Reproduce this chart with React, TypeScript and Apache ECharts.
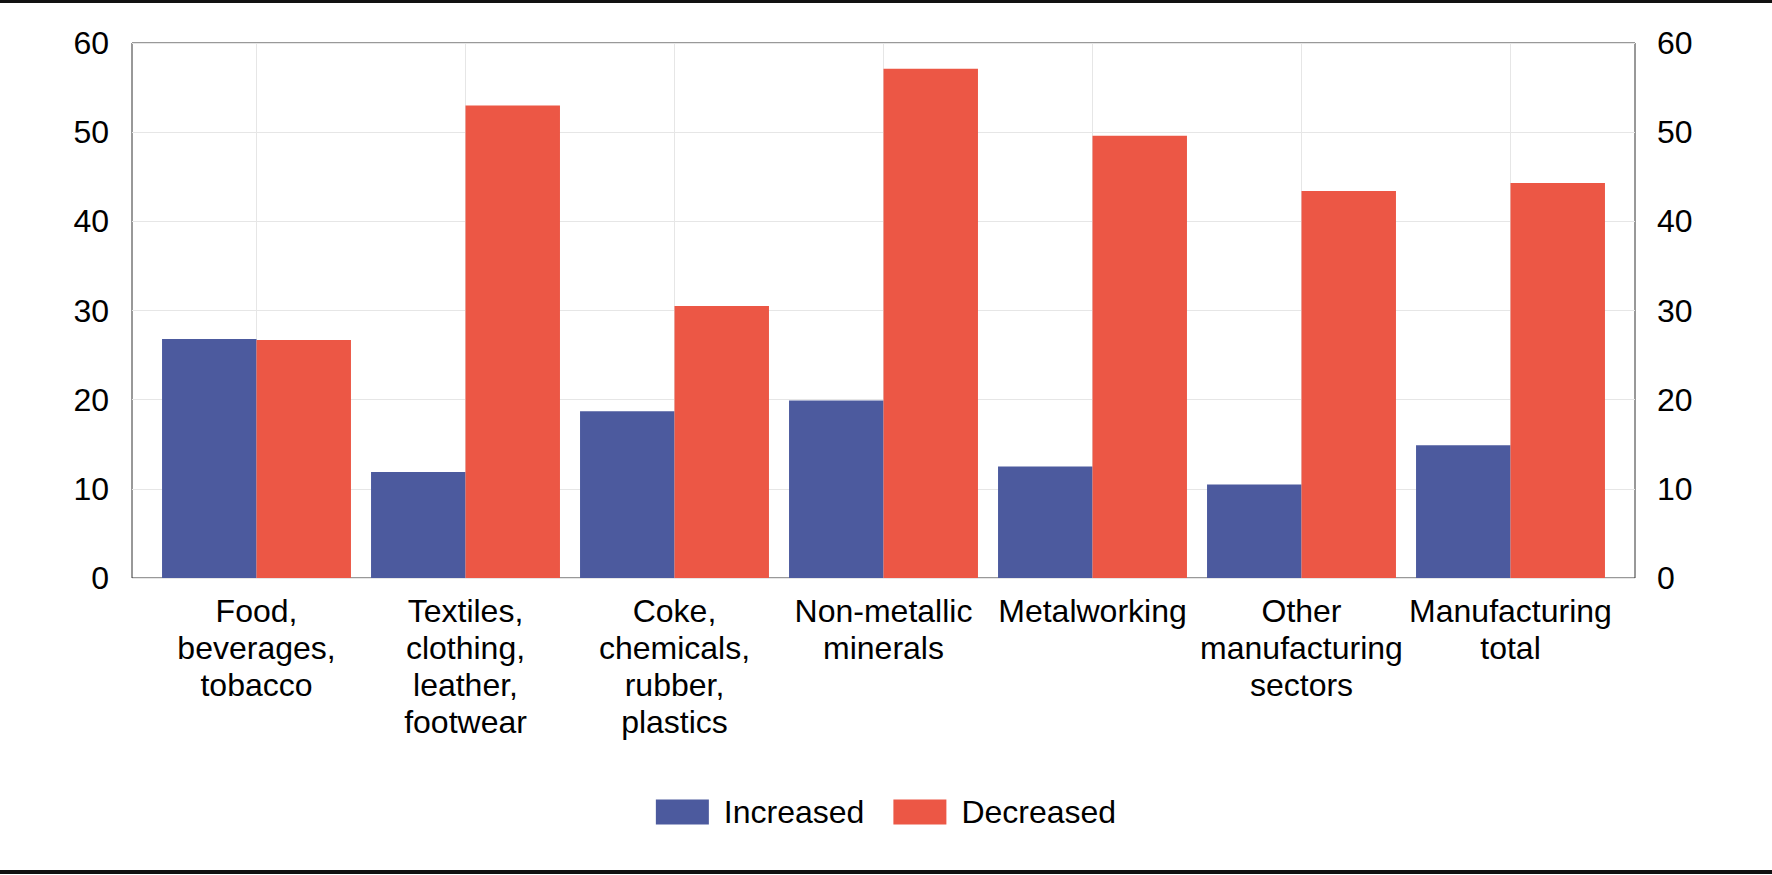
import React, { useEffect, useRef } from "react";
import * as echarts from "echarts";

const categories = [
  "Food,\nbeverages,\ntobacco",
  "Textiles,\nclothing,\nleather,\nfootwear",
  "Coke,\nchemicals,\nrubber,\nplastics",
  "Non-metallic\nminerals",
  "Metalworking",
  "Other\nmanufacturing\nsectors",
  "Manufacturing\ntotal",
];
const increased = [26.8, 11.9, 18.7, 19.9, 12.5, 10.5, 14.9];
const decreased = [26.7, 53.0, 30.5, 57.1, 49.6, 43.4, 44.3];
const seriesNames = ["Increased", "Decreased"];
const yMin = 0;
const yMax = 60;
const yStep = 10;

const FONT = "'Liberation Sans', Arial, sans-serif";

export default function App() {
  const ref = useRef<HTMLDivElement>(null);
  useEffect(() => {
    document.body.style.margin = "0";
    const chart = echarts.init(ref.current!, null, { renderer: "svg" });
    const W = 1772;
    chart.setOption({
      animation: false,
      backgroundColor: "#ffffff",
      textStyle: { fontFamily: FONT, color: "#000" },
      grid: [
        { left: 132, right: 137, top: 43, bottom: 297, show: true, borderColor: "#333", borderWidth: 1, backgroundColor: "transparent" },
        { left: 152, right: 157, top: 43, bottom: 297 },
      ],
      legend: {
        data: seriesNames,
        icon: "rect",
        bottom: 42,
        left: "center",
        itemWidth: 53,
        itemHeight: 25,
        itemGap: 29,
        textStyle: { fontFamily: FONT, fontSize: 32, color: "#000", padding: [0, 0, 0, 10] },
      },
      xAxis: [
        {
          type: "category",
          gridIndex: 0,
          data: categories,
          show: false,
        },
        {
          type: "category",
          gridIndex: 1,
          data: categories,
          axisLine: { show: false },
          axisTick: { show: false },
          splitLine: { show: true, alignWithLabel: true, lineStyle: { color: "#e6e6e6", width: 1 } },
          axisLabel: {
            interval: 0,
            fontFamily: FONT,
            fontSize: 32,
            lineHeight: 37,
            color: "#000",
            margin: 14,
          },
        },
      ],
      yAxis: [
        {
          type: "value",
          gridIndex: 0,
          min: yMin,
          max: yMax,
          interval: yStep,
          position: "left",
          axisLine: { show: false },
          axisTick: { show: false },
          splitLine: { show: true, lineStyle: { color: "#e6e6e6", width: 1 } },
          axisLabel: { fontFamily: FONT, fontSize: 32, color: "#000", margin: 23 },
        },
        {
          type: "value",
          gridIndex: 0,
          min: yMin,
          max: yMax,
          interval: yStep,
          position: "right",
          axisLine: { show: false },
          axisTick: { show: false },
          splitLine: { show: false },
          axisLabel: { fontFamily: FONT, fontSize: 32, color: "#000", margin: 22 },
        },
        {
          type: "value",
          gridIndex: 1,
          min: yMin,
          max: yMax,
          interval: yStep,
          show: false,
        },
      ],
      series: [
        {
          name: seriesNames[0],
          type: "bar",
          xAxisIndex: 1,
          yAxisIndex: 2,
          data: increased,
          barGap: "0%",
          barCategoryGap: "9.6%",
          itemStyle: { color: "#4c5a9e" },
        },
        {
          name: seriesNames[1],
          type: "bar",
          xAxisIndex: 1,
          yAxisIndex: 2,
          data: decreased,
          barGap: "0%",
          barCategoryGap: "9.6%",
          itemStyle: { color: "#ec5745" },
        },
      ],
      graphic: [
        { type: "rect", left: 0, top: 0, shape: { width: W, height: 3 }, style: { fill: "#111" }, silent: true },
        { type: "rect", left: 0, top: 870, shape: { width: W, height: 4 }, style: { fill: "#111" }, silent: true },
      ],
    });
    return () => chart.dispose();
  }, []);
  return <div ref={ref} style={{ width: 1772, height: 875 }} />;
}
